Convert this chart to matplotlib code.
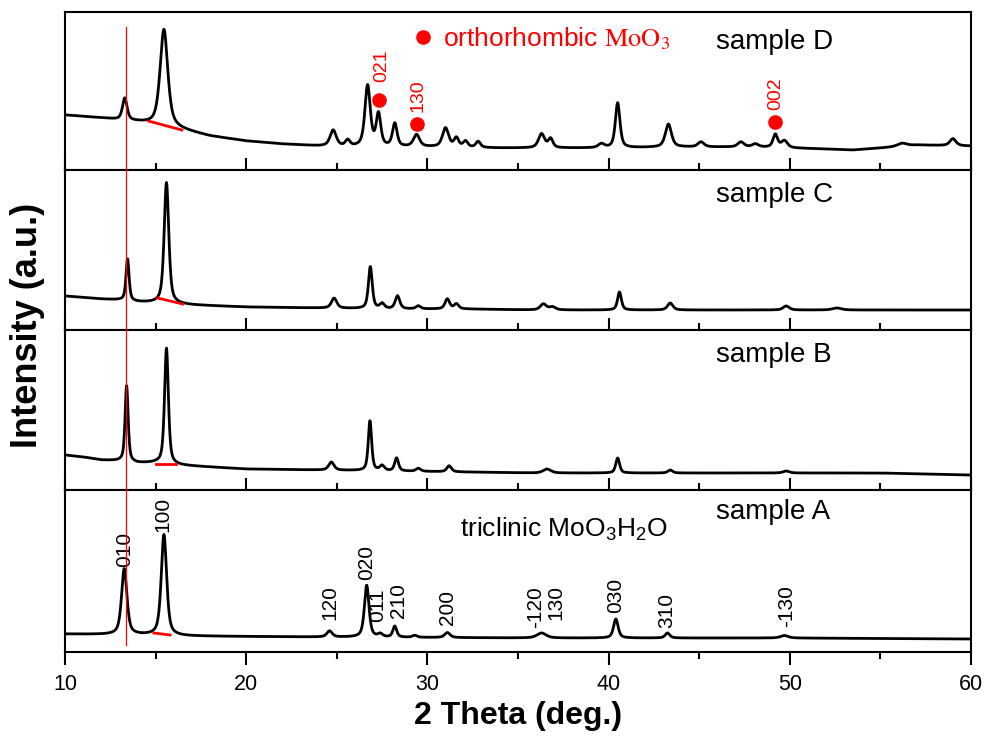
import numpy as np
import matplotlib.pyplot as plt
from matplotlib import transforms
from matplotlib.lines import Line2D
from matplotlib.ticker import MultipleLocator

plt.rcParams['font.family'] = ['Liberation Sans', 'DejaVu Sans']
plt.rcParams['mathtext.fontset'] = 'stix'

two_theta = np.linspace(10, 60, 2501)

# sample D: background levels and peak table (position, height above bg, FWHM)
d_bg_x = [10, 12, 13, 14, 15, 16, 17, 18, 20, 22, 24, 26, 30, 34, 40, 44, 48, 50, 52, 53.5, 55, 57, 60]
d_bg_y = [55, 52, 50, 48, 45, 42, 38, 34, 29, 26, 24, 23, 23, 22, 22, 23, 23, 22, 21, 20, 22, 25, 24]
d_pos = [13.3, 15.46, 24.8, 25.6, 26.7, 27.3, 28.2, 29.4, 31.0, 31.6, 32.1, 32.8,
         36.3, 36.8, 39.6, 40.5, 43.3, 45.1, 47.3, 48.1, 49.2, 49.7, 56.2, 59.0]
d_height = [22, 97, 16, 6, 61, 32, 23, 12, 19, 9, 6, 6,
            14, 9, 4, 45, 23, 5, 5, 3, 13, 7, 3, 7]
d_fwhm = [0.3, 0.5, 0.4, 0.3, 0.35, 0.3, 0.3, 0.4, 0.4, 0.3, 0.3, 0.3,
          0.4, 0.3, 0.4, 0.3, 0.4, 0.4, 0.4, 0.4, 0.3, 0.4, 0.6, 0.4]

# sample C
c_bg_x = [10, 12, 13, 14, 15, 16, 17, 20, 24, 28, 32, 36, 60]
c_bg_y = [34, 31, 30, 28, 27, 26, 25, 23, 22, 21, 21, 20, 20]
c_pos = [13.45, 15.6, 24.85, 26.85, 27.5, 28.35, 29.5, 31.1, 31.6, 36.4, 36.9, 40.6, 43.4, 49.8, 52.6]
c_height = [42, 121, 10, 42, 5, 13, 3, 10, 5, 6, 3, 18, 7, 4, 2]
c_fwhm = [0.2, 0.3, 0.35, 0.25, 0.3, 0.3, 0.3, 0.3, 0.3, 0.4, 0.4, 0.25, 0.35, 0.4, 0.6]

# sample B
b_bg_x = [10, 11, 12, 13, 14, 15, 16, 18, 20, 24, 28, 32, 36, 55, 60]
b_bg_y = [35, 33, 30, 29, 27, 27, 25, 23, 21, 20, 19, 18, 17, 17, 15]
b_pos = [13.4, 15.6, 24.7, 26.83, 27.5, 28.3, 29.5, 31.2, 36.6, 40.5, 43.4, 49.8]
b_height = [76, 116, 8, 50, 5, 13, 3, 6, 4, 15, 3, 2]
b_fwhm = [0.2, 0.25, 0.35, 0.22, 0.3, 0.25, 0.3, 0.3, 0.5, 0.25, 0.3, 0.4]

# sample A
a_bg_x = [10, 12, 14, 16, 20, 24, 30, 36, 50, 60]
a_bg_y = [18, 17.5, 17, 16, 15.5, 15, 14.5, 14, 14, 13]
a_pos = [13.27, 15.46, 24.6, 26.65, 27.4, 28.2, 29.3, 31.1, 36.3, 40.4, 43.25, 49.7]
a_height = [66, 101, 6, 52, 3, 11, 2, 5, 5, 19, 5, 2.5]
a_fwhm = [0.35, 0.35, 0.35, 0.3, 0.3, 0.25, 0.3, 0.35, 0.6, 0.3, 0.3, 0.5]

# red baseline under the 100 reflection, per sample
base_x = {'D': [14.6, 16.45], 'C': [15.1, 16.5], 'B': [15.0, 16.1], 'A': [14.9, 15.8]}
base_y = {'D': [49, 40], 'C': [32, 26], 'B': [26, 26], 'A': [19, 17]}

# orthorhombic MoO3 reflections marked on sample D
ortho_x = [27.35, 29.4, 49.2]
ortho_y = [70, 46, 48]
ortho_hkl = ['021', '130', '002']
ortho_lbl_x = [27.5, 29.5, 49.2]
ortho_lbl_y = [88, 58, 60]

# triclinic MoO3.H2O indexing on sample A
a_hkl = ['010', '100', '120', '020', '011', '210', '200', '-120', '130', '030', '310', '-130']
a_hkl_x = [13.27, 15.4, 24.6, 26.65, 27.25, 28.4, 31.1, 35.95, 37.1, 40.4, 43.2, 49.8]
a_hkl_y = [85, 120, 32, 72, 30, 34, 27, 24, 32, 39, 24, 25]

ref_line_x = 13.35


def pattern(bg_x, bg_y, pos, height, fwhm):
    y = np.interp(two_theta, bg_x, bg_y)
    for p, h, w in zip(pos, height, fwhm):
        u = (two_theta - p) / (w / 2)
        y = y + h * (0.6 / (1 + u ** 2) + 0.4 * np.exp(-np.log(2) * u ** 2))
    return y


fig = plt.figure(figsize=(9.89, 7.40), dpi=100)
gs = fig.add_gridspec(4, 1, left=65/989, right=971/989, top=1-12/740, bottom=1-652/740,
                      hspace=0, height_ratios=[158, 160, 160, 162])
axes = [fig.add_subplot(gs[i]) for i in range(4)]
ax_d, ax_c, ax_b, ax_a = axes

panels = [
    (ax_d, 'D', pattern(d_bg_x, d_bg_y, d_pos, d_height, d_fwhm), 158, 128),
    (ax_c, 'C', pattern(c_bg_x, c_bg_y, c_pos, c_height, c_fwhm), 160, 135),
    (ax_b, 'B', pattern(b_bg_x, b_bg_y, b_pos, b_height, b_fwhm), 160, 135),
    (ax_a, 'A', pattern(a_bg_x, a_bg_y, a_pos, a_height, a_fwhm), 162, 140),
]

for ax, name, y, ymax, label_y in panels:
    ax.plot(two_theta, y, color='black', lw=2.0)
    ax.plot(base_x[name], base_y[name], color='red', lw=2.0)
    ax.set_xlim(10, 60)
    ax.set_ylim(0, ymax)
    ax.set_yticks([])
    ax.xaxis.set_major_locator(MultipleLocator(10))
    ax.xaxis.set_minor_locator(MultipleLocator(5))
    direction = 'out' if name == 'A' else 'in'
    ax.tick_params(axis='x', which='major', length=9, width=1.5, direction=direction,
                   labelsize=15.5, pad=7, labelbottom=(name == 'A'))
    ax.tick_params(axis='x', which='minor', length=5, width=1.5, direction=direction)
    for s in ax.spines.values():
        s.set_linewidth(1.5)
    ax.text(45.9, label_y, f'sample {name}', fontsize=20, va='center', ha='left')

# orthorhombic markers
ax_d.plot(ortho_x, ortho_y, 'o', color='red', ms=9.5, ls='none')
for hkl, x, y in zip(ortho_hkl, ortho_lbl_x, ortho_lbl_y):
    ax_d.text(x, y, hkl, color='red', fontsize=14, rotation=90, ha='center', va='bottom')
ax_d.plot([29.76], [133], 'o', color='red', ms=9.5)
ax_d.text(30.85, 131, r'orthorhombic $\mathrm{MoO_3}$', color='red', fontsize=19,
          va='center', ha='left')

# triclinic indexing
for hkl, x, y in zip(a_hkl, a_hkl_x, a_hkl_y):
    ax_a.text(x, y, hkl, fontsize=15, rotation=90, ha='center', va='bottom')
ax_a.text(31.8, 123, r'triclinic MoO$\mathregular{_3}$H$\mathregular{_2}$O', fontsize=19,
          va='center', ha='left')

ax_a.set_xlabel('2 Theta (deg.)', fontsize=23, fontweight='bold', labelpad=4)
fig.text(0.028, 0.56, 'Intensity (a.u.)', fontsize=26, fontweight='bold',
         rotation=90, ha='center', va='center')

# reference line through all patterns
trans = transforms.blended_transform_factory(ax_a.transData, fig.transFigure)
fig.add_artist(Line2D([ref_line_x, ref_line_x], [1 - 27/740, 1 - 645/740],
                      transform=trans, color='red', lw=0.9))

fig.savefig('out.png', dpi=100)
